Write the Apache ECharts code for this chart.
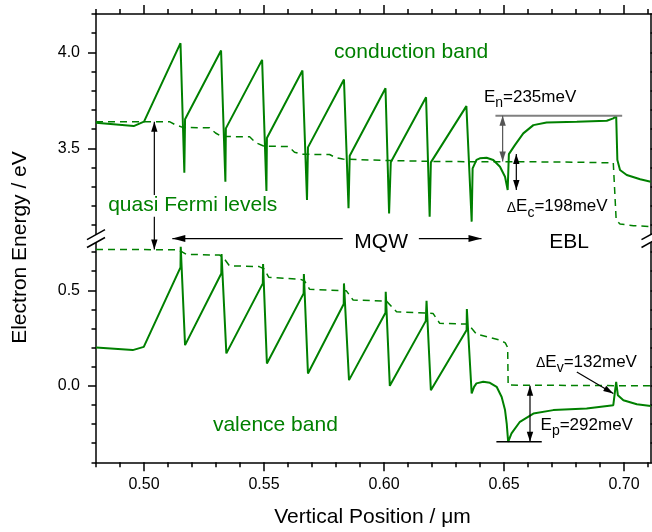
<!DOCTYPE html>
<html><head><meta charset="utf-8">
<script src="https://cdn.jsdelivr.net/npm/echarts@6/dist/echarts.min.js"></script>
<style>html,body{margin:0;padding:0;background:#fff}#c{width:652px;height:532px}</style>
</head><body><div id="c"></div>
<script>
// ---------------- data ----------------
const conductionBand = [
[0.4800,3.633],[0.4957,3.616],[0.5000,3.639],
[0.5152,4.048],[0.5168,3.373],[0.5171,3.652],
[0.5321,4.010],[0.5339,3.326],[0.5341,3.604],
[0.5492,3.961],[0.5510,3.278],[0.5512,3.554],
[0.5660,3.906],[0.5679,3.231],[0.5683,3.505],
[0.5833,3.859],[0.5852,3.188],[0.5857,3.461],
[0.6006,3.813],[0.6021,3.161],[0.6028,3.427],
[0.6175,3.766],[0.6190,3.144],[0.6195,3.427],
[0.6343,3.720],[0.6365,3.118],[0.6369,3.396],
[0.6385,3.440],[0.6399,3.448],[0.6427,3.451],[0.6455,3.439],[0.6483,3.404],[0.6504,3.352],[0.6515,3.283],
[0.6520,3.470],[0.6545,3.517],[0.6580,3.578],[0.6622,3.621],[0.6677,3.635],[0.6803,3.639],[0.6928,3.644],[0.6955,3.656],[0.6967,3.670],
[0.6972,3.439],[0.6983,3.387],[0.7011,3.361],[0.7067,3.339],[0.7111,3.326]
];
const conductionFermi = [
[0.4800,3.639],[0.5106,3.639],[0.5127,3.625],[0.5161,3.609],
[0.5273,3.607],[0.5298,3.580],[0.5323,3.562],
[0.5440,3.560],[0.5465,3.530],[0.5498,3.512],
[0.5602,3.509],[0.5627,3.480],[0.5657,3.469],
[0.5773,3.468],[0.5798,3.452],[0.5828,3.444],
[0.6000,3.437],[0.6200,3.432],[0.6400,3.430],[0.6600,3.430],[0.6800,3.428],[0.6955,3.424],
[0.6967,3.127],[0.6983,3.106],[0.7039,3.097],[0.7111,3.092]
];
const valenceBand = [
[0.4800,0.201],[0.4953,0.187],[0.4999,0.204],
[0.5152,0.620],[0.5153,0.728],[0.5171,0.213],
[0.5322,0.588],[0.5323,0.690],[0.5343,0.170],
[0.5495,0.536],[0.5496,0.637],[0.5512,0.117],
[0.5665,0.484],[0.5666,0.585],[0.5683,0.065],
[0.5832,0.428],[0.5833,0.536],[0.5854,0.030],
[0.6006,0.382],[0.6007,0.492],[0.6024,0.000],
[0.6174,0.340],[0.6177,0.445],[0.6195,-0.023],
[0.6344,0.292],[0.6345,0.402],[0.6365,-0.040],
[0.6375,-0.005],[0.6385,0.013],[0.6413,0.021],[0.6441,0.016],[0.6469,-0.005],[0.6490,-0.058],[0.6504,-0.127],[0.6511,-0.197],[0.6517,-0.293],
[0.6531,-0.249],[0.6566,-0.188],[0.6622,-0.145],[0.6705,-0.127],[0.6844,-0.118],[0.6955,-0.101],[0.6967,0.021],
[0.6974,-0.049],[0.6997,-0.075],[0.7053,-0.096],[0.7111,-0.105]
];
const valenceFermi = [
[0.4800,0.714],[0.5139,0.712],[0.5160,0.700],[0.5177,0.688],
[0.5315,0.684],[0.5330,0.672],[0.5356,0.628],
[0.5480,0.624],[0.5500,0.612],[0.5520,0.568],
[0.5650,0.558],[0.5668,0.550],[0.5690,0.505],
[0.5843,0.497],[0.5871,0.449],
[0.6010,0.443],[0.6052,0.388],
[0.6204,0.379],[0.6232,0.327],
[0.6350,0.323],[0.6385,0.271],
[0.6483,0.239],[0.6505,0.225],[0.6515,0.200],[0.6517,0.004],[0.7111,0.000]
];
const enLevel = [[0.6464,3.670],[0.6992,3.670]];
const epLevel = [[0.6468,-0.293],[0.6657,-0.293]];

// axis ranges and ticks
const xRange = [0.48, 0.711];
const topRange = [3.05, 4.2];
const botRange = [-0.4, 0.75];
const xMajor = [0.50,0.55,0.60,0.65,0.70];
const xMinor = [0.48,0.49,0.51,0.52,0.53,0.54,0.56,0.57,0.58,0.59,0.61,0.62,0.63,0.64,0.66,0.67,0.68,0.69,0.71];
const topMajor = [3.5,4.0];
const topMinor = [3.1,3.2,3.3,3.4,3.6,3.7,3.8,3.9,4.1,4.2];
const botMajor = [0.0,0.5];
const botMinor = [-0.4,-0.3,-0.2,-0.1,0.1,0.2,0.3,0.4,0.6,0.7];

// annotation anchors (data units)
const quasiArrow = {x:0.5043, top:3.639, textTop:3.257, textBottom:3.144, bottom:0.714};
const mqwArrow = {left:0.5118, leftEnd:0.5828, rightStart:0.6145, right:0.6406};
const enArrow = {x:0.6494, top:3.670, bottom:3.432};
const dEcArrow = {x:0.6551, top:3.470, bottom:3.283};
const epArrow = {x:0.6608, top:0.000, bottom:-0.293};
const dEvArrow = {from:[0.6803,0.073], to:[0.6955,-0.040]};

// ---------------- chart ----------------
const FAMILY = '"Liberation Sans", Arial, Helvetica, sans-serif';
const GREEN = '#008000';
const chart = echarts.init(document.getElementById('c'), null, {renderer:'canvas', width:652, height:532});

function xAx(grid, pos, ticks, len, major, labels) {
  return {type:'value', gridIndex:grid, position:pos, min:xRange[0], max:xRange[1],
    axisLine:{show:major, onZero:false, lineStyle:{color:'#000', width:1.5}},
    axisTick:{show:true, inside:false, length:len, customValues:ticks, lineStyle:{color:'#000', width:1.5}},
    axisLabel: labels ? {show:true, customValues:ticks, formatter:v=>v.toFixed(2), margin:14, fontSize:16, fontFamily:FAMILY, color:'#000'} : {show:false},
    splitLine:{show:false}, minorTick:{show:false}};
}
function yAx(grid, pos, range, ticks, len, major, labels) {
  return {type:'value', gridIndex:grid, position:pos, min:range[0], max:range[1],
    axisLine:{show:major, onZero:false, lineStyle:{color:'#000', width:1.5}},
    axisTick:{show:true, inside:false, length:len, customValues:ticks, lineStyle:{color:'#000', width:1.5}},
    axisLabel: labels ? {show:true, customValues:ticks, formatter:v=>v.toFixed(1), margin:16, fontSize:16, fontFamily:FAMILY, color:'#000'} : {show:false},
    splitLine:{show:false}, minorTick:{show:false}};
}
function lineSeries(xi, yi, data, style) {
  return {type:'line', xAxisIndex:xi, yAxisIndex:yi, data:data, symbol:'none', silent:true,
    animation:false, lineStyle:style, z:3};
}

const option = {
  animation:false,
  backgroundColor:'#fff',
  grid:[
    {left:96, right:1.5, top:14, height:220.7},
    {left:96, right:1.5, top:242.5, height:219.8}
  ],
  xAxis:[
    xAx(0,'top',xMajor,9,true,false),
    xAx(0,'top',xMinor,5,false,false),
    xAx(1,'bottom',xMajor,9,true,true),
    xAx(1,'bottom',xMinor,5,false,false)
  ],
  yAxis:[
    yAx(0,'left',topRange,topMajor,8,true,true),
    yAx(0,'left',topRange,topMinor,4.5,false,false),
    yAx(0,'right',topRange,topMajor,8,true,false),
    yAx(0,'right',topRange,topMinor,4.5,false,false),
    yAx(1,'left',botRange,botMajor,8,true,true),
    yAx(1,'left',botRange,botMinor,4.5,false,false),
    yAx(1,'right',botRange,botMajor,8,true,false),
    yAx(1,'right',botRange,botMinor,4.5,false,false)
  ],
  series:[
    lineSeries(0,0,conductionBand,{color:GREEN,width:2}),
    lineSeries(0,0,conductionFermi,{color:GREEN,width:1.5,type:[7,5]}),
    lineSeries(2,4,valenceBand,{color:GREEN,width:2}),
    lineSeries(2,4,valenceFermi,{color:GREEN,width:1.5,type:[7,5]}),
    lineSeries(0,0,enLevel,{color:'#808080',width:2}),
    lineSeries(2,4,epLevel,{color:'#000',width:1.5})
  ]
};
chart.setOption(option);

// ---------------- annotations ----------------
const mctx = document.createElement('canvas').getContext('2d');
function P(si, pt){ return chart.convertToPixel({seriesIndex:si}, pt); }
const T = pt => P(0, pt);   // top panel
const B = pt => P(2, pt);   // bottom panel

function seg(a, b, color, w){
  return {type:'line', silent:true, z:10, shape:{x1:a[0],y1:a[1],x2:b[0],y2:b[1]}, style:{stroke:color, lineWidth:w||1.2}};
}
function head(tip, from, color, len, half){
  len = len||10; half = half||3.2;
  const dx = tip[0]-from[0], dy = tip[1]-from[1], d = Math.hypot(dx,dy);
  const ux = dx/d, uy = dy/d, bx = tip[0]-ux*len, by = tip[1]-uy*len;
  return {type:'polygon', silent:true, z:11, shape:{points:[[tip[0],tip[1]],[bx-uy*half,by+ux*half],[bx+uy*half,by-ux*half]]}, style:{fill:color}};
}
function dbl(a, b, color){ return [seg(a,b,color), head(a,b,color), head(b,a,color)]; }
// baseline placement via 'middle' using em-square offset
function textB(str, x, baseline, size, color, align){
  return {type:'text', silent:true, z:12, x:x, y:baseline - 0.31*size, style:{text:str, font:size+'px '+FAMILY, fill:color, align:align||'left', verticalAlign:'middle'}};
}
function subLabel(parts, x, baseline, color){
  const out = []; let cx = x;
  parts.forEach(p => {
    mctx.font = p.size+'px '+FAMILY;
    out.push(textB(p.t, cx, baseline + (p.dy||0), p.size, color, 'left'));
    cx += mctx.measureText(p.t).width + (p.gap||0);
  });
  return out;
}

const g = [];
// axis break marks
const y0 = T([xRange[0], topRange[0]])[1];
const y1 = B([xRange[0], botRange[1]])[1];
const xl = T([xRange[0], 3.5])[0], xr = T([xRange[1], 3.5])[0];
const gapMid = (y0+y1)/2;
[xl, xr].forEach(ax => {
  g.push({type:'polygon', silent:true, z:9, shape:{points:[[ax-9,y0+5],[ax+9,y0-5],[ax+9,y1-5],[ax-9,y1+5]]}, style:{fill:'#fff'}});
  g.push(seg([ax-9,y0+5],[ax+9,y0-5],'#000',1.5));
  g.push(seg([ax-9,y1+5],[ax+9,y1-5],'#000',1.5));
});

// quasi Fermi arrow
{
  const a = T([quasiArrow.x, quasiArrow.top]), b = T([quasiArrow.x, quasiArrow.textTop]);
  const c = T([quasiArrow.x, quasiArrow.textBottom]), d = B([quasiArrow.x, quasiArrow.bottom]);
  g.push(seg(a,b,'#000'), head(a,b,'#000'), seg(c,d,'#000'), head(d,c,'#000'));
}
// MQW arrow
{
  const l = [T([mqwArrow.left,3.5])[0], gapMid], le = [T([mqwArrow.leftEnd,3.5])[0], gapMid];
  const rs = [T([mqwArrow.rightStart,3.5])[0], gapMid], r = [T([mqwArrow.right,3.5])[0], gapMid];
  g.push(seg(l,le,'#000'), head(l,le,'#000',13,3.5), seg(rs,r,'#000'), head(r,rs,'#000',13,3.5));
}
g.push(...dbl(T([enArrow.x,enArrow.top]), T([enArrow.x,enArrow.bottom]), '#555'));
g.push(...dbl(T([dEcArrow.x,dEcArrow.top]), T([dEcArrow.x,dEcArrow.bottom]), '#000'));
g.push(...dbl(B([epArrow.x,epArrow.top]), B([epArrow.x,epArrow.bottom]), '#000'));
{
  const a = B(dEvArrow.from), b = B(dEvArrow.to);
  g.push(seg(a,b,'#000'), head(b,a,'#000',10,3));
}

// green labels
{
  let p = T([0.6113, 4.0]); g.push(textB('conduction band', p[0], 58.3, 21, GREEN, 'center'));
  p = T([0.5203, 3.5]); g.push(textB('quasi Fermi levels', p[0], T([0.5, 3.170])[1], 21, GREEN, 'center'));
  p = B([0.5287, -0.24]); g.push(textB('valence band', p[0], p[1], 21, GREEN, 'left'));
  p = T([0.5988, 3.5]); g.push(textB('MQW', p[0], gapMid + 9.7, 21, '#000', 'center'));
  p = T([0.6771, 3.5]); g.push(textB('EBL', p[0], gapMid + 9.7, 21, '#000', 'center'));
}
// black labels with subscripts
{
  let p = T([0.6416, 3.740]);
  g.push(...subLabel([{t:'E',size:17},{t:'n',size:14,dy:5},{t:'=235meV',size:17}], p[0], p[1], '#000'));
  p = T([0.6511, 3.168]);
  g.push(...subLabel([{t:'\u0394',size:14},{t:'E',size:17},{t:'c',size:14,dy:5},{t:'=198meV',size:17}], p[0], p[1], '#000'));
  p = B([0.6633, 0.094]);
  g.push(...subLabel([{t:'\u0394',size:14},{t:'E',size:17},{t:'v',size:14,dy:5},{t:'=132meV',size:17}], p[0], p[1], '#000'));
  p = B([0.6652, -0.232]);
  g.push(...subLabel([{t:'E',size:17},{t:'p',size:14,dy:5},{t:'=292meV',size:17}], p[0], p[1], '#000'));
}
// axis titles
g.push({type:'text', silent:true, z:12, x:26.7 - 0.31*21, y:247.5, rotation:Math.PI/2,
  style:{text:'Electron Energy / eV', font:'21px '+FAMILY, fill:'#000', align:'center', verticalAlign:'middle'}});
g.push(textB('Vertical Position / \u03bcm', 372.5, 524, 21, '#000', 'center'));

chart.setOption({graphic:g});
</script>
</body></html>
